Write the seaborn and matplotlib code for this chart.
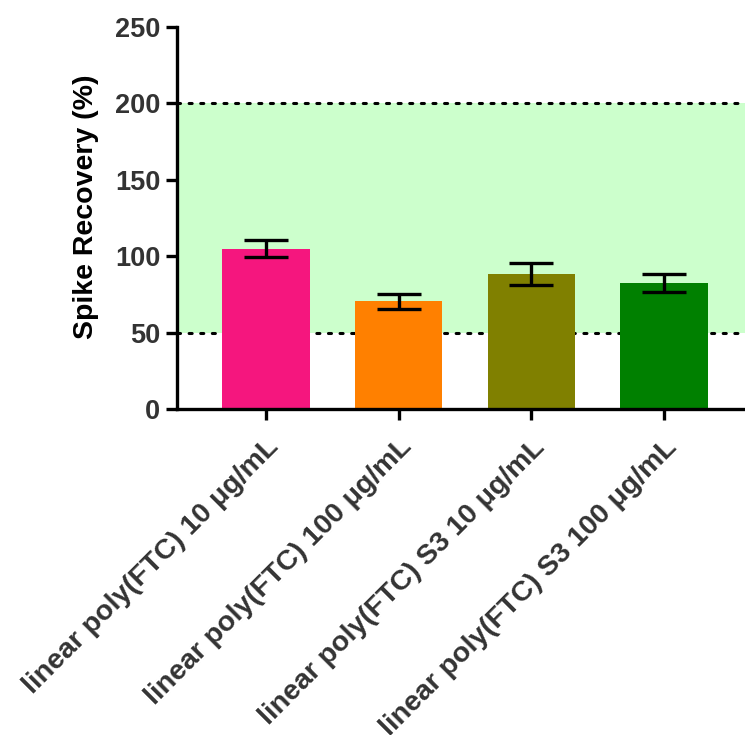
import matplotlib
matplotlib.use("Agg")
import matplotlib.pyplot as plt
import seaborn as sns
import pandas as pd

# values
samples = ["linear poly(FTC) 10 \u03bcg/mL", "linear poly(FTC) 100 \u03bcg/mL",
           "linear poly(FTC) S3 10 \u03bcg/mL", "linear poly(FTC) S3 100 \u03bcg/mL"]
recovery = [105, 70.5, 88.5, 82.5]
sd = [5.3, 4.8, 7.2, 6.0]
bar_colors = ["#f5167e", "#ff8000", "#808000", "#008000"]
yticks = [0, 50, 100, 150, 200, 250]
range_low, range_high = 50, 200

df = pd.DataFrame({"Sample": samples, "Recovery": recovery})

sns.set_style("ticks")
plt.rcParams["font.family"] = ["Liberation Sans", "DejaVu Sans"]
plt.rcParams["font.weight"] = "bold"

fig = plt.figure(figsize=(7.45, 7.35), dpi=100)
ax = fig.add_axes([0.2376, 0.4435, 0.7624, 0.5198])

# acceptable recovery range
ax.axhspan(range_low, range_high, color="#ccffcc", zorder=0, lw=0)
for yv in (range_low, range_high):
    ax.axhline(yv, color="black", lw=2.2, linestyle=(0, (1, 2.8)),
               dash_capstyle="round", zorder=0.5)

sns.barplot(data=df, x="Sample", y="Recovery", hue="Sample", palette=bar_colors,
            saturation=1, legend=False, width=0.66, errorbar=None, ax=ax,
            zorder=2, linewidth=0)
ax.errorbar(range(len(samples)), recovery, yerr=sd, fmt="none", ecolor="black",
            elinewidth=2.4, capsize=16, capthick=2.4, zorder=3)

ax.set_ylim(0, 250)
ax.set_xlim(-0.67, 3.61)
ax.set_yticks(yticks)
ax.set_xlabel("")
ax.set_ylabel("Spike Recovery (%)", fontsize=20.5, fontweight="bold", color="black")
ax.yaxis.set_label_coords(-0.138, 0.53)

for s in ["top", "right"]:
    ax.spines[s].set_visible(False)
for s in ["left", "bottom"]:
    ax.spines[s].set_linewidth(2.4)
    ax.spines[s].set_color("black")

ax.tick_params(axis="both", width=2.4, length=8, color="black")
ax.tick_params(axis="y", labelsize=19.5, labelcolor="#333333", pad=4)
ax.tick_params(axis="x", labelsize=20.5, labelcolor="#333333", pad=10)
for lbl in ax.get_xticklabels():
    lbl.set_rotation(45)
    lbl.set_ha("right")
    lbl.set_rotation_mode("anchor")
    lbl.set_fontweight("bold")
for lbl in ax.get_yticklabels():
    lbl.set_fontweight("bold")

fig.savefig("out.png", dpi=100)
